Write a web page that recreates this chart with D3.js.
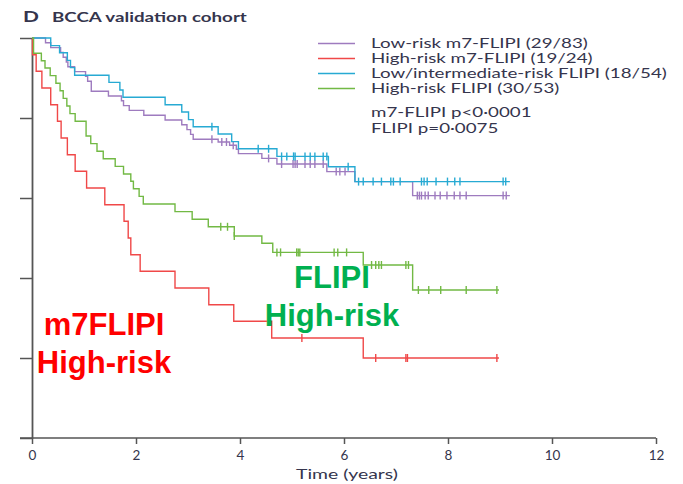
<!DOCTYPE html>
<html>
<head>
<meta charset="utf-8">
<script src="https://cdn.jsdelivr.net/npm/d3@7"></script>
<style>
  body { margin: 0; background: #fff; }
  svg { display: block; }
</style>
</head>
<body>
<div class="chart"></div>
<script>
// ticks
const xTicks = [0, 2, 4, 6, 8, 10, 12];
const yTicks = [0, 0.2, 0.4, 0.6, 0.8, 1];

// legend labels
const seriesNames = [
  "Low-risk m7-FLIPI (29/83)",
  "High-risk m7-FLIPI (19/24)",
  "Low/intermediate-risk FLIPI (18/54)",
  "High-risk FLIPI (30/53)"
];
const pValues = ["m7-FLIPI p<0·0001", "FLIPI p=0·0075"];

// low-risk m7-FLIPI (purple)
const purpleTimes = [0.26, 0.36, 0.55, 0.6, 0.66, 0.69, 0.82, 1.03, 1.07, 1.14, 1.47, 1.72, 1.76, 1.87, 2.15, 2.56, 2.88, 2.98, 3.05, 3.1, 3.58, 3.8, 3.93, 3.97, 4.42, 4.71, 5.67, 6.21, 7.32];
const purpleSurv = [0.988, 0.976, 0.964, 0.952, 0.94, 0.928, 0.916, 0.904, 0.892, 0.867, 0.855, 0.843, 0.831, 0.819, 0.807, 0.795, 0.783, 0.771, 0.759, 0.747, 0.74, 0.732, 0.722, 0.711, 0.699, 0.685, 0.666, 0.641, 0.606];
const purpleCensor = [3.46, 3.65, 3.74, 3.87, 4.55, 4.8, 5.02, 5.06, 5.1, 5.25, 5.35, 5.44, 5.6, 5.85, 5.92, 6.02, 7.41, 7.45, 7.49, 7.56, 7.62, 7.75, 7.85, 7.98, 8.12, 8.23, 8.35, 9.06, 9.12];
const purpleEnd = 9.19;

// high-risk m7-FLIPI (red)
const redTimes = [0.01, 0.08, 0.19, 0.36, 0.49, 0.56, 0.68, 0.83, 1.05, 1.4, 1.77, 1.85, 1.9, 2.08, 2.75, 3.4, 3.88, 4.61, 6.37];
const redSurv = [0.958, 0.917, 0.875, 0.833, 0.792, 0.75, 0.708, 0.667, 0.625, 0.583, 0.542, 0.5, 0.458, 0.417, 0.375, 0.333, 0.292, 0.25, 0.2];
const redCensor = [5.19, 6.61, 7.19, 7.22, 8.94];
const redEnd = 8.98;

// low/intermediate-risk FLIPI (blue)
const blueTimes = [0.36, 0.53, 0.68, 0.74, 0.82, 1.48, 1.69, 1.75, 2.56, 2.88, 3.01, 3.1, 3.58, 3.84, 3.97, 4.71, 5.7, 6.21];
const blueSurv = [0.981, 0.963, 0.944, 0.926, 0.907, 0.889, 0.87, 0.852, 0.833, 0.815, 0.796, 0.778, 0.76, 0.741, 0.723, 0.704, 0.678, 0.641];
const blueCensor = [3.46, 4.35, 4.55, 4.8, 4.9, 5.03, 5.06, 5.25, 5.35, 5.44, 5.6, 5.67, 6.08, 6.28, 6.37, 6.56, 6.72, 6.9, 6.95, 7.08, 7.49, 7.54, 7.6, 7.77, 7.99, 8.13, 8.23, 9.06, 9.11];
const blueEnd = 9.19;

// high-risk FLIPI (green)
const greenTimes = [0.03, 0.18, 0.25, 0.35, 0.46, 0.54, 0.6, 0.67, 0.73, 0.83, 1.04, 1.13, 1.25, 1.37, 1.6, 1.76, 1.9, 1.95, 2.06, 2.14, 2.75, 3.08, 3.39, 3.89, 4.42, 4.63, 6.37, 7.32];
const greenSurv = [0.962, 0.943, 0.925, 0.906, 0.887, 0.868, 0.849, 0.83, 0.811, 0.792, 0.755, 0.736, 0.717, 0.698, 0.679, 0.66, 0.642, 0.623, 0.604, 0.585, 0.566, 0.547, 0.528, 0.505, 0.487, 0.464, 0.4325, 0.37];
const greenCensor = [3.63, 3.76, 3.89, 4.71, 4.78, 5.09, 5.12, 5.15, 5.81, 5.88, 6.05, 6.53, 6.61, 6.67, 6.72, 7.19, 7.24, 7.43, 7.63, 7.86, 8.35, 8.94];
const greenEnd = 8.98;

const colors = ["#9e7bbf", "#f04848", "#27aad3", "#72b944"];

const curves = [
  { times: purpleTimes, surv: purpleSurv, censor: purpleCensor, end: purpleEnd, color: colors[0] },
  { times: redTimes, surv: redSurv, censor: redCensor, end: redEnd, color: colors[1] },
  { times: blueTimes, surv: blueSurv, censor: blueCensor, end: blueEnd, color: colors[2] },
  { times: greenTimes, surv: greenSurv, censor: greenCensor, end: greenEnd, color: colors[3] }
];

const w = 683;
const h = 484;
const font = "Lato, 'Open Sans', sans-serif";
const textColor = "#35354d";

const x = d3.scaleLinear().domain([0, 12]).range([32, 656]);
const y = d3.scaleLinear().domain([0, 1]).range([438, 38]);

const svg = d3.select(".chart").append("svg").attr("width", w).attr("height", h);

// text that is stretched sideways like the original figure
function wideText(parent, str, px, py, size, weight) {
  return parent.append("text")
    .attr("data-x", px).attr("data-y", py)
    .text(str)
    .style("font-family", font)
    .style("font-weight", weight || "normal")
    .style("font-size", size + "px")
    .style("fill", textColor);
}
function stretch(sel, sx) {
  sel.attr("transform", function () {
    return "translate(" + this.getAttribute("data-x") + "," + this.getAttribute("data-y") + ") scale(" + sx + ",1)";
  });
}

// title
const titleD = wideText(svg, "D", 23, 22, 14.5, "bold");
const titleT = wideText(svg, "BCCA validation cohort", 52, 22, 13, "bold");
const titleScale = 195 / titleT.node().getComputedTextLength();
stretch(titleD, titleScale);
stretch(titleT, titleScale);

// axes
const xAxis = d3.axisBottom(x).tickValues(xTicks).tickSize(6).tickSizeOuter(0).tickPadding(6);
const yAxis = d3.axisLeft(y).tickValues(yTicks).tickFormat("").tickSize(12).tickSizeOuter(0);

const gx = svg.append("g").attr("transform", "translate(0," + y(0) + ")").call(xAxis);
const gy = svg.append("g").attr("transform", "translate(" + x(0) + ",0)").call(yAxis);

gx.select(".domain").remove();
gx.append("line")
  .attr("x1", x(0) - 12).attr("x2", x(12))
  .attr("stroke", "#555").attr("stroke-width", 1.5);

[gx, gy].forEach((g) => {
  g.selectAll("line").attr("stroke", "#555").attr("stroke-width", 1.5);
  g.selectAll("path").attr("stroke", "#555").attr("stroke-width", 1.8);
});
gx.selectAll("text")
  .style("font-family", font)
  .style("font-size", "13.5px")
  .style("fill", textColor);

const xTitle = wideText(svg, "Time (years)", (x(0) + x(12)) / 2 + 3, 479, 13)
  .attr("text-anchor", "middle");
stretch(xTitle, 102 / xTitle.node().getComputedTextLength());

// survival curves
const line = d3.line().x((d) => x(d[0])).y((d) => y(d[1])).curve(d3.curveStepAfter);

curves.forEach((c) => {
  const pts = [[0, 1]].concat(c.times.map((t, i) => [t, c.surv[i]]));
  pts.push([c.end, c.surv[c.surv.length - 1]]);
  svg.append("path")
    .attr("d", line(pts))
    .attr("fill", "none")
    .attr("stroke", c.color)
    .attr("stroke-width", 1.4);

  const level = (t) => {
    const i = d3.bisectRight(c.times, t);
    return i === 0 ? 1 : c.surv[i - 1];
  };
  svg.append("g")
    .selectAll("line")
    .data(c.censor)
    .enter()
    .append("line")
    .attr("x1", (d) => x(d)).attr("x2", (d) => x(d))
    .attr("y1", (d) => y(level(d)) - 4)
    .attr("y2", (d) => y(level(d)) + 4)
    .attr("stroke", c.color)
    .attr("stroke-width", 1.4);
});

// legend
const legend = svg.append("g").attr("id", "legend");
const legendTexts = [];
seriesNames.forEach((name, i) => {
  const yy = 48 + i * 15;
  legend.append("line")
    .attr("x1", 318).attr("x2", 355)
    .attr("y1", yy - 4.5).attr("y2", yy - 4.5)
    .attr("stroke", colors[i]).attr("stroke-width", 1.3);
  legendTexts.push(wideText(legend, name, 371, yy, 12.5));
});
pValues.forEach((p, i) => {
  legendTexts.push(wideText(legend, p, 371, 117 + i * 16, 12.5));
});
const legendScale = 217 / legendTexts[0].node().getComputedTextLength();
legendTexts.forEach((t) => stretch(t, legendScale));

// annotations
const notes = [
  { lines: ["m7FLIPI", "High-risk"], x: 104, y: 335, color: "#ff0000" },
  { lines: ["FLIPI", "High-risk"], x: 332, y: 288, color: "#00b050" }
];
notes.forEach((n) => {
  n.lines.forEach((t, i) => {
    svg.append("text")
      .attr("x", n.x).attr("y", n.y + i * 38)
      .attr("text-anchor", "middle")
      .text(t)
      .style("font-family", "'Liberation Sans', Arial, sans-serif")
      .style("font-weight", "bold")
      .style("font-size", "31px")
      .style("fill", n.color);
  });
});
</script>
</body>
</html>
